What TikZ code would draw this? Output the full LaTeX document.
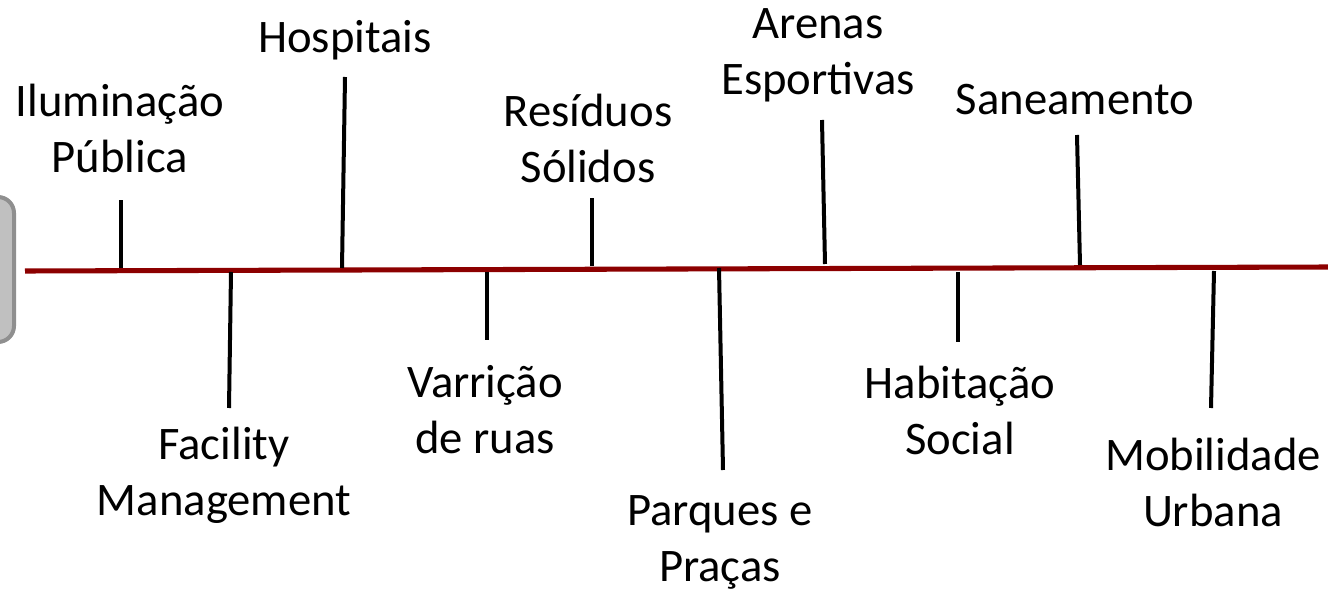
\documentclass[tikz,border=0pt]{standalone}
\usepackage{fontspec}
\setmainfont{Carlito}
\definecolor{spinered}{RGB}{140,0,0}
\definecolor{boxfill}{RGB}{192,192,192}
\definecolor{boxline}{RGB}{143,143,143}
\tikzset{every picture/.style={line width=0.75pt},
  branch/.style={line width=3pt,black},
  spine/.style={line width=3.8pt,spinered},
  label/.style={align=center,font=\fontsize{35}{42}\selectfont,inner sep=0pt}}
\begin{document}
\begin{tikzpicture}[x=0.75pt,y=0.75pt,yscale=-1,xscale=1]
	\useasboundingbox (0,0) rectangle (1328,595);

	%Shape: Rounded Rectangle [id:box]
	\draw [fill=boxfill, draw=boxline, line width=3pt, rounded corners=12pt] (-30,197) rectangle (14,342);

	%Straight Lines [id:spine]
	\coordinate (spineL) at (25,271);
	\coordinate (spineR) at (1330,267);
	\draw [spine] (spineL) -- (spineR);

	%Straight Lines [id:branches above]
	\coordinate (ilumA) at (121,268);   \coordinate (ilumB) at (121,200);
	\coordinate (hospA) at (342,268);   \coordinate (hospB) at (345,77);
	\coordinate (residA) at (592,266);  \coordinate (residB) at (592,198);
	\coordinate (arenaA) at (825,264);  \coordinate (arenaB) at (822,120);
	\coordinate (saneA) at (1080,265);  \coordinate (saneB) at (1077,135);
	\draw [branch] (ilumA) -- (ilumB);
	\draw [branch] (hospA) -- (hospB);
	\draw [branch] (residA) -- (residB);
	\draw [branch] (arenaA) -- (arenaB);
	\draw [branch] (saneA) -- (saneB);

	%Straight Lines [id:branches below]
	\coordinate (faciA) at (231,272);   \coordinate (faciB) at (229,408);
	\coordinate (varrA) at (487,272);   \coordinate (varrB) at (487,340);
	\coordinate (parqA) at (719,268);   \coordinate (parqB) at (723,470);
	\coordinate (habiA) at (958,272);   \coordinate (habiB) at (958,342);
	\coordinate (mobiA) at (1214,271);  \coordinate (mobiB) at (1211,408);
	\draw [branch] (faciA) -- (faciB);
	\draw [branch] (varrA) -- (varrB);
	\draw [branch] (parqA) -- (parqB);
	\draw [branch] (habiA) -- (habiB);
	\draw [branch] (mobiA) -- (mobiB);

	% Text Node
	\node [label] (ilum) at (120,128) {Iluminação\\Pública};
	% Text Node
	\node [label] (hosp) at (345,40) {Hospitais};
	% Text Node
	\node [label] (resid) at (588,138) {Resíduos\\Sólidos};
	% Text Node
	\node [label] (arena) at (818,55) {Arenas\\Esportivas};
	% Text Node
	\node [label] (sane) at (1075,100) {Saneamento};
	% Text Node
	\node [label] (faci) at (224,475) {Facility\\Management};
	% Text Node
	\node [label] (varr) at (485,410) {Varrição\\de ruas};
	% Text Node
	\node [label] (parq) at (720,542) {Parques e\\Praças};
	% Text Node
	\node [label] (habi) at (960,410) {Habitação\\Social};
	% Text Node
	\node [label] (mobi) at (1213,482) {Mobilidade\\Urbana};

\end{tikzpicture}
\end{document}
